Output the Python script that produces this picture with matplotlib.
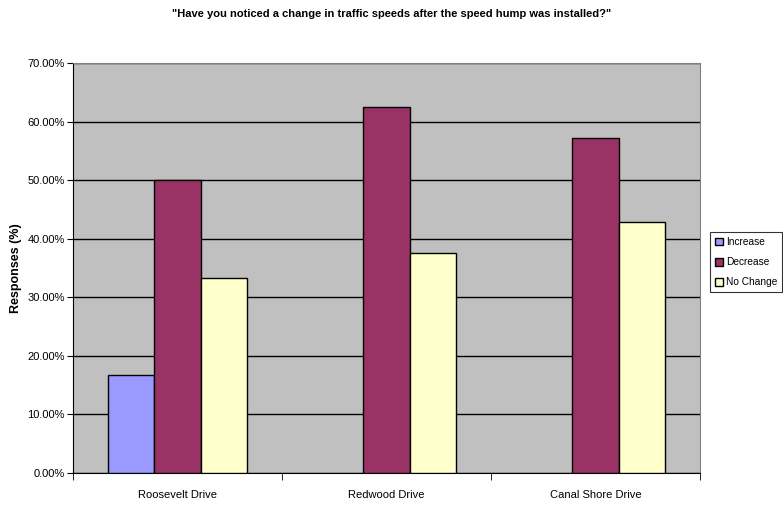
import numpy as np
import matplotlib.pyplot as plt
from matplotlib.patches import Patch

# data
streets = ['Roosevelt Drive', 'Redwood Drive', 'Canal Shore Drive']
increase = [16.67, 0.0, 0.0]
decrease = [50.0, 62.5, 57.14]
no_change = [33.33, 37.5, 42.86]
series_names = ['Increase', 'Decrease', 'No Change']
colors = ['#9999FF', '#993366', '#FFFFCC']

plt.rcParams['font.family'] = ['Liberation Sans', 'DejaVu Sans']

fig = plt.figure(figsize=(7.83, 5.08), dpi=100)
ax = fig.add_axes([73 / 783, 35 / 508, 627 / 783, 410 / 508])
ax.set_facecolor('#C0C0C0')

x = np.arange(len(streets))
w = 0.222
for i, (vals, c) in enumerate(zip([increase, decrease, no_change], colors)):
    vals = np.array(vals)
    keep = vals > 0  # zero-height bars are not drawn in the original
    ax.bar(x[keep] + (i - 1) * w, vals[keep], width=w, color=c, edgecolor='black',
           linewidth=1, zorder=3)

ax.set_xlim(-0.5, 2.5)
ax.set_ylim(0, 70)
ax.set_yticks(np.arange(0, 71, 10))
ax.set_yticklabels([f'{v:.2f}%' for v in range(0, 71, 10)], fontsize=8)
ax.yaxis.grid(True, color='black', linewidth=1, zorder=1)
ax.set_axisbelow(True)

# category labels centred, ticks between categories
ax.set_xticks(x)
ax.set_xticklabels(streets, fontsize=8)
ax.tick_params(axis='x', length=0, pad=12)
ax.set_xticks([-0.5, 0.5, 1.5, 2.5], minor=True)
ax.tick_params(axis='x', which='minor', length=5, direction='out', color='black')
ax.tick_params(axis='y', length=4, direction='out', pad=2)

for side in ['top', 'right']:
    ax.spines[side].set_color('#808080')
for side in ['left', 'bottom']:
    ax.spines[side].set_color('black')

ax.set_ylabel('Responses (%)', fontsize=9, fontweight='bold', labelpad=4)
fig.text(0.5, 1 - 14 / 508, '"Have you noticed a change in traffic speeds after the speed hump was installed?"',
         ha='center', va='center', fontsize=8, fontweight='bold')

handles = [Patch(facecolor=c, edgecolor='black', label=n) for c, n in zip(colors, series_names)]
leg = fig.legend(handles=handles, loc='upper left', bbox_to_anchor=(710 / 783, 1 - 232 / 508),
                 fontsize=7.3, frameon=True, fancybox=False, edgecolor='black',
                 handlelength=0.8, handleheight=0.8, handletextpad=0.25,
                 borderpad=0.5, labelspacing=1.0, borderaxespad=0)
leg.get_frame().set_linewidth(0.8)

fig.savefig('out.png', dpi=100)
